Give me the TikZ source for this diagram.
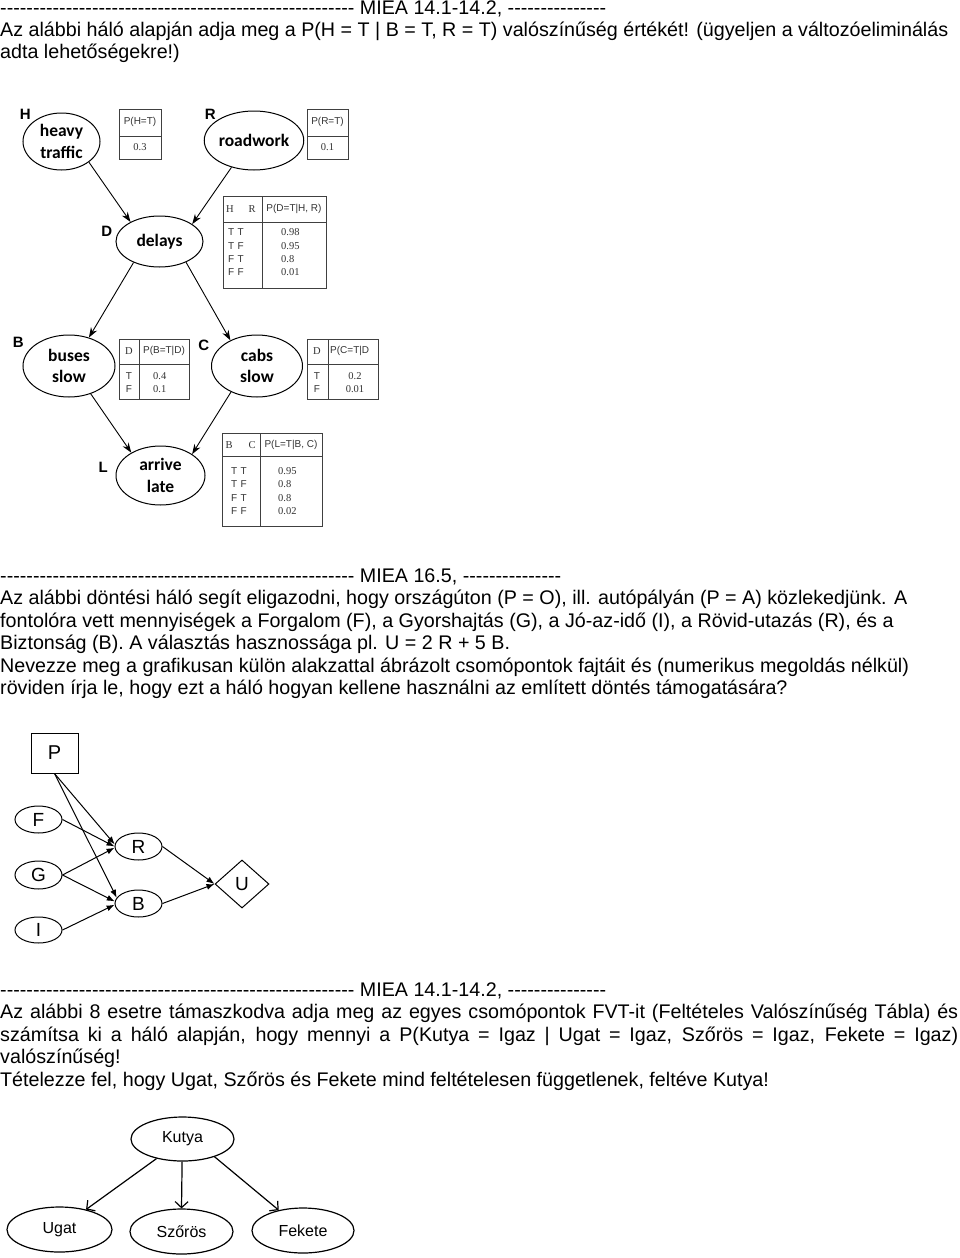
\documentclass[tikz,border=0pt]{standalone}
\usepackage{fontspec}
\setmainfont{Liberation Sans}
\newfontfamily\carl{Carlito}
\newfontfamily\tser{Liberation Serif}
\usetikzlibrary{shapes.geometric,arrows.meta}
\newcommand\dashrun[1]{\foreach \i in {1,...,#1}{-\kern0pt}}
\tikzset{
  txt/.style={anchor=base west, inner sep=0pt, font=\fontsize{19.7}{22.4}\selectfont},
  bn/.style={ellipse, draw, line width=1pt, inner sep=0pt, align=center,
    font=\carl\bfseries\fontsize{17.5}{21.5}\selectfont},
  lab/.style={inner sep=0pt, font=\bfseries\fontsize{15}{15}\selectfont},
  tab/.style={draw=black!75, line width=0.9pt},
  tt/.style={inner sep=0pt, text=black!80, font=\fontsize{10}{10}\selectfont},
  ts/.style={inner sep=0pt, text=black!80, font=\tser\fontsize{10.5}{10.5}\selectfont},
  bnarrow/.style={-{Stealth[length=10pt,width=7pt]}, line width=0.9pt},
  dn/.style={ellipse, draw, line width=1pt, inner sep=0pt, minimum width=47pt,
    minimum height=27pt, font=\fontsize{19}{19}\selectfont},
  dnarrow/.style={-{Latex[length=8pt,width=6pt]}, line width=1pt},
  kn/.style={ellipse, draw, line width=1.2pt, inner sep=0pt, minimum height=45pt,
    font=\fontsize{16}{16}\selectfont},
  karrow/.style={-{Straight Barb[length=6pt,width=13pt]}, line width=1.2pt}
}
\begin{document}
\begin{tikzpicture}[x=1pt,y=-1pt]
\fill[white] (0,0) rectangle (960,1258);
\useasboundingbox (0,0) rectangle (960,1258);

% ---------- section 1 text
\node[txt] (s1a) at (0,14) {\dashrun{54} MIEA 14.1-14.2, \dashrun{15}};
\node[txt] (s1b) at (0,36) {Az alábbi háló alapján adja meg a P(H = T | B = T, R = T) valószínűség értékét! (ügyeljen a változóeliminálás};
\node[txt] (s1c) at (0,58) {adta lehetőségekre!)};

% ---------- Bayes net 1
\node[bn, minimum width=77pt, minimum height=57pt] (H) at (61.5,141.5) {heavy\\traffic};
\node[bn, minimum width=90pt, minimum height=59pt] (R) at (254,140.5) {roadwork};
\node[bn, minimum width=87pt, minimum height=51pt] (D) at (159.5,241.5) {delays};
\node[bn, minimum width=92pt, minimum height=62pt] (B) at (69,366) {buses\\slow};
\node[bn, minimum width=91pt, minimum height=62pt] (C) at (257,366) {cabs\\slow};
\node[bn, minimum width=89pt, minimum height=59pt] (L) at (160.5,475.5) {arrive\\late};

\node[lab] (lH) at (25.3,114.5) {H};
\node[lab] (lR) at (210.3,114.5) {R};
\node[lab] (lD) at (106.7,231.3) {D};
\node[lab] (lB) at (18.3,342.5) {B};
\node[lab] (lC) at (203.7,345.8) {C};
\node[lab] (lL) at (103.3,467.5) {L};

\draw[bnarrow] (H.-37) -- (D.146);
\draw[bnarrow] (R.-130) -- (D.28);
\draw[bnarrow] (D.-141) -- (B.55);
\draw[bnarrow] (D.-38) -- (C.136);
\draw[bnarrow] (B.-52) -- (L.142);
\draw[bnarrow] (C.-135) -- (L.34);

% tables
\draw[tab] (119,109) rectangle (161,159) (119,136) -- (161,136);
\node[tt] (tH1) at (140,122) {P(H=T)};
\node[ts] (tH2) at (140,147.5) {0.3};

\draw[tab] (307,109) rectangle (348,159) (307,136) -- (348,136);
\node[tt] (tR1) at (327.5,122) {P(R=T)};
\node[ts] (tR2) at (327.5,147.5) {0.1};

\draw[tab] (223,196) rectangle (326,288) (262,196) -- (262,288) (223,222) -- (326,222);
\node[ts] (tD1) at (230,209) {H};
\node[ts] (tD2) at (252,209) {R};
\node[tt] (tD3) at (294,209) {P(D=T|H, R)};
\node[tt] (tD4) at (236,232.5) {T\,\,T};
\node[tt] (tD5) at (236,246) {T\,\,F};
\node[tt] (tD6) at (236,259.3) {F\,\,T};
\node[tt] (tD7) at (236,272.5) {F\,\,F};
\node[ts, anchor=west] (tD8) at (281,232.5) {0.98};
\node[ts, anchor=west] (tD9) at (281,246) {0.95};
\node[ts, anchor=west] (tD10) at (281,259.3) {0.8};
\node[ts, anchor=west] (tD11) at (281,272.5) {0.01};

\draw[tab] (119,339) rectangle (189,399) (139,339) -- (139,399) (119,364) -- (189,364);
\node[ts] (tB1) at (129,351) {D};
\node[tt] (tB2) at (164,351) {P(B=T|D)};
\node[tt] (tB3) at (129,376) {T};
\node[tt] (tB4) at (129,389) {F};
\node[ts, anchor=west] (tB5) at (153,376) {0.4};
\node[ts, anchor=west] (tB6) at (153,389) {0.1};

\draw[tab] (307,339) rectangle (378,399) (328,339) -- (328,399) (307,364) -- (378,364);
\node[ts] (tC1) at (317,351) {D};
\node[tt, anchor=west] (tC2) at (330,351) {P(C=T|D};
\node[tt] (tC3) at (317,376) {T};
\node[tt] (tC4) at (317,389) {F};
\node[ts] (tC5) at (355,376) {0.2};
\node[ts] (tC6) at (355,389) {0.01};

\draw[tab] (222,433) rectangle (322,526) (260,433) -- (260,526) (222,456) -- (322,456);
\node[ts] (tL1) at (229,445) {B};
\node[ts] (tL2) at (252,445) {C};
\node[tt] (tL3) at (291,445) {P(L=T|B, C)};
\node[tt] (tL4) at (239,471) {T\,\,T};
\node[tt] (tL5) at (239,484.5) {T\,\,F};
\node[tt] (tL6) at (239,498) {F\,\,T};
\node[tt] (tL7) at (239,511) {F\,\,F};
\node[ts, anchor=west] (tL8) at (278,471) {0.95};
\node[ts, anchor=west] (tL9) at (278,484.5) {0.8};
\node[ts, anchor=west] (tL10) at (278,498) {0.8};
\node[ts, anchor=west] (tL11) at (278,511) {0.02};

% ---------- section 2 text
\node[txt] (s2a) at (0,582) {\dashrun{54} MIEA 16.5, \dashrun{15}};
\node[txt] (s2b) at (0,604.5) {Az alábbi döntési háló segít eligazodni, hogy országúton (P = O), ill. autópályán (P = A) közlekedjünk. A};
\node[txt] (s2c) at (0,627) {fontolóra vett mennyiségek a Forgalom (F), a Gyorshajtás (G), a Jó-az-idő (I), a Rövid-utazás (R), és a};
\node[txt] (s2d) at (0,649.5) {Biztonság (B). A választás hasznossága pl. U = 2 R + 5 B.};
\node[txt] (s2e) at (0,672) {Nevezze meg a grafikusan külön alakzattal ábrázolt csomópontok fajtáit és (numerikus megoldás nélkül)};
\node[txt] (s2f) at (0,694.5) {röviden írja le, hogy ezt a háló hogyan kellene használni az említett döntés támogatására?};

% ---------- decision net
\node[draw, line width=1pt, minimum width=47pt, minimum height=40pt, inner sep=0pt,
  font=\fontsize{20}{20}\selectfont] (P) at (54.5,753) {P};
\node[dn] (F) at (38.5,819.5) {F};
\node[dn, minimum height=28pt] (G) at (38.5,875) {G};
\node[dn, minimum height=26pt] (I) at (38.5,930) {I};
\node[dn] (Rn) at (138.5,846.5) {R};
\node[dn] (Bn) at (138.5,903.5) {B};
\node[diamond, draw, line width=1pt, minimum width=54pt, minimum height=48pt,
  inner sep=0pt, font=\fontsize{19}{19}\selectfont] (U) at (242,884) {U};

\draw[dnarrow] (P.south) -- (Rn.175);
\draw[dnarrow] (P.south) -- (Bn.165);
\draw[dnarrow] (F.east) -- (Rn.180);
\draw[dnarrow] (G.east) -- (Rn.183);
\draw[dnarrow] (G.east) -- (Bn.175);
\draw[dnarrow] (I.east) -- (Bn.183);
\draw[dnarrow] (Rn.east) -- (U.west);
\draw[dnarrow] (Bn.east) -- (U.west);

% ---------- section 3 text
\node[txt] (s3a) at (0,996) {\dashrun{54} MIEA 14.1-14.2, \dashrun{15}};
\node[txt] (s3b) at (0,1018.5) {\makebox[958pt][s]{Az alábbi 8 esetre támaszkodva adja meg az egyes csomópontok FVT-it (Feltételes Valószínűség Tábla) és}};
\node[txt] (s3c) at (0,1041) {\makebox[958pt][s]{számítsa ki a háló alapján, hogy mennyi a P(Kutya = Igaz | Ugat = Igaz, Szőrös = Igaz, Fekete = Igaz)}};
\node[txt] (s3d) at (0,1063.5) {valószínűség!};
\node[txt] (s3e) at (0,1086) {Tételezze fel, hogy Ugat, Szőrös és Fekete mind feltételesen függetlenek, feltéve Kutya!};

% ---------- Kutya net
\node[kn, minimum width=103pt, minimum height=44pt] (K) at (182.5,1139) {Kutya};
\node[kn, minimum width=105pt] (Ug) at (59.5,1229.5) {Ugat};
\node[kn, minimum width=103pt] (Sz) at (181.5,1231.5) {Szőrös};
\node[kn, minimum width=102pt] (Fk) at (303,1230.5) {Fekete};

\draw[karrow] (K.-143) -- (Ug.37);
\draw[karrow] (K.-91) -- (Sz.90);
\draw[karrow] (K.-29) -- (Fk.140);
\end{tikzpicture}
\end{document}
